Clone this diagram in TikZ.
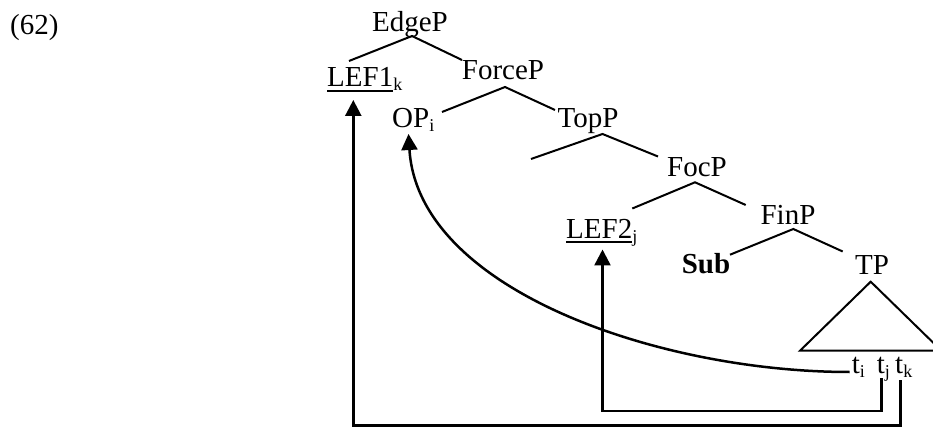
\documentclass[tikz,border=0pt]{standalone}
\usepackage{fontspec}
\setmainfont{Liberation Serif}
\usetikzlibrary{arrows.meta,calc}
\newcommand\sbs[1]{\raisebox{-3.8pt}{\fontsize{18}{18}\selectfont #1}}
\newcommand\ulx[1]{\setbox0\hbox{#1}\rlap{\rule[-4.6pt]{\wd0}{1.8pt}}\box0}
\begin{document}
\begin{tikzpicture}[x=1pt,y=-1pt,
  lbl/.style={inner sep=0pt,font=\fontsize{29}{31}\selectfont,anchor=base},
  lblw/.style={lbl,anchor=base west},
  branch/.style={line width=2pt},
  mv/.style={line width=2.5pt,-{Triangle[length=16pt,width=16pt]}}]
\useasboundingbox (0,0) rectangle (933,427);
% labels
\node[lblw] (ex) at (10,35) {(62)};
\node[lbl] (EdgeP) at (410,32) {EdgeP};
\node[lblw] (LEF1) at (327,87) {\ulx{LEF1}\sbs{k}};
\node[lbl] (ForceP) at (503,80) {ForceP};
\node[lblw] (OP) at (392,128) {OP\sbs{i}};
\node[lbl] (TopP) at (588,128) {TopP};
\coordinate (topspec) at (531,159);
\node[lbl] (FocP) at (697,177) {FocP};
\node[lblw] (LEF2) at (566,238.5) {\ulx{LEF2}\sbs{j}};
\node[lbl] (FinP) at (788,225) {FinP};
\node[lbl] (Sub) at (706,274) {\textbf{Sub}};
\node[lbl] (TP) at (872,275) {TP};
\node[lblw] (ti) at (851.7,373.3) {t\sbs{i}};
\node[lblw] (tj) at (876.7,373.3) {t\sbs{j}};
\node[lblw] (tk) at (895,373.3) {t\sbs{k}};
% branches
\draw[branch] ($(LEF1.base west)+(22,-26)$) -- ($(EdgeP.base)+(2,4)$) -- ($(ForceP.base)+(-41,-20)$);
\draw[branch] ($(OP.base west)+(50,-16)$) -- ($(ForceP.base)+(2,7)$) -- ($(TopP.base)+(-33,-18)$);
\draw[branch] (topspec) -- ($(TopP.base)+(14.5,6)$) -- ($(FocP.base)+(-39,-20.5)$);
\draw[branch] ($(LEF2.base west)+(66.3,-30)$) -- ($(FocP.base)+(-2,5.3)$) -- ($(FinP.base)+(-42.3,-20)$);
\draw[branch] ($(Sub.base)+(24,-19.3)$) -- ($(FinP.base)+(5.3,4)$) -- ($(TP.base)+(-29.3,-23.5)$);
\draw[branch] ($(TP.base)+(-1.3,6.7)$) -- ++(-70.7,69) -- ++(141.4,0) -- cycle;
% movement arrows
\draw[mv] ($(ti.base west)+(-2,-1.3)$) .. controls +(-190,0) and +(9.5,156) .. ($(OP.base west)+(16.5,6)$);
\draw[mv] ($(tj.base west)+(5,5)$) -- ++(0,32.5) -| ($(LEF2.base west)+(36.5,11)$);
\draw[mv] ($(tk.base west)+(5.7,6.7)$) -- ++(0,45.5) -| ($(LEF1.base west)+(26.3,13)$);
\end{tikzpicture}
\end{document}
